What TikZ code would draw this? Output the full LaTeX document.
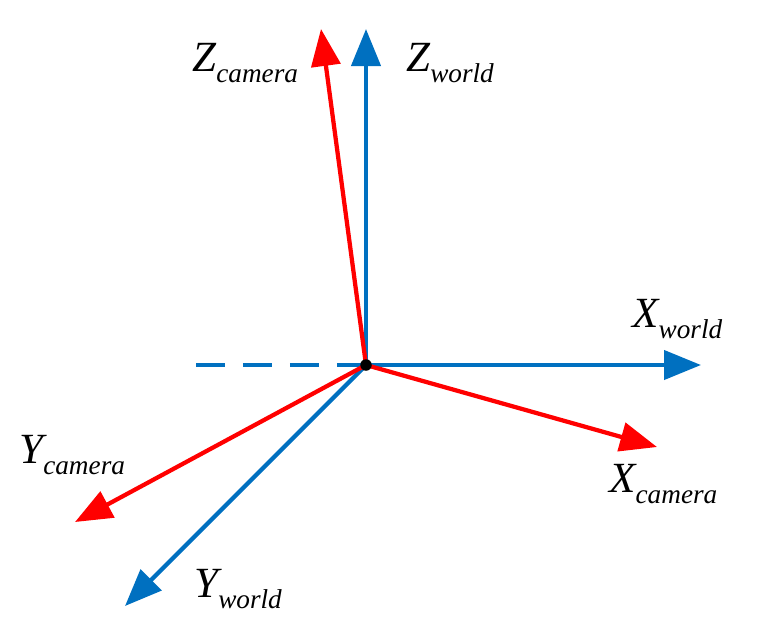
\documentclass[tikz,border=0pt]{standalone}
\usepackage{fontspec}
\setmainfont{Liberation Serif}
\usetikzlibrary{arrows.meta}

\definecolor{worldblue}{RGB}{0,112,192}
\definecolor{camred}{RGB}{255,0,0}

\newcommand{\axlabel}[2]{\fontsize{24.5}{28}\selectfont\itshape #1\raisebox{-6.8pt}{\fontsize{15.5}{18}\selectfont #2}}

\tikzset{
  axis/.style={line width=0.085cm, -{Triangle[length=0.74cm,width=0.58cm]}},
  lbl/.style={anchor=base west, inner sep=0pt},
}

\begin{document}
\begin{tikzpicture}[x=0.02cm,y=-0.02cm]
\useasboundingbox (0,0) rectangle (764,630);

% origin and axis ends
\coordinate (o) at (366,365);
\coordinate (zw) at (366,29);
\coordinate (xw) at (701,365);
\coordinate (yw) at (125,606);
\coordinate (back) at (196,365);
\coordinate (zc) at (321,29);
\coordinate (xc) at (657,447);
\coordinate (yc) at (75,522);

% world frame
\draw[worldblue, line width=0.085cm, dash pattern=on 0.58cm off 0.36cm] (back) -- (o);
\draw[axis, worldblue] (o) -- (zw);
\draw[axis, worldblue] (o) -- (xw);
\draw[axis, worldblue] (o) -- (yw);

% camera frame
\draw[axis, camred] (o) -- (zc);
\draw[axis, camred] (o) -- (xc);
\draw[axis, camred] (o) -- (yc);

\fill[black] (o) circle (0.115cm);

% labels
\node[lbl] (zclbl) at (192,71) {\axlabel{Z}{camera}};
\node[lbl] (zwlbl) at (406,71) {\axlabel{Z}{world}};
\node[lbl] (xwlbl) at (632,327) {\axlabel{X}{world}};
\node[lbl] (xclbl) at (609,492) {\axlabel{X}{camera}};
\node[lbl] (yclbl) at (19,463) {\axlabel{Y}{camera}};
\node[lbl] (ywlbl) at (194,597) {\axlabel{Y}{world}};
\end{tikzpicture}
\end{document}
